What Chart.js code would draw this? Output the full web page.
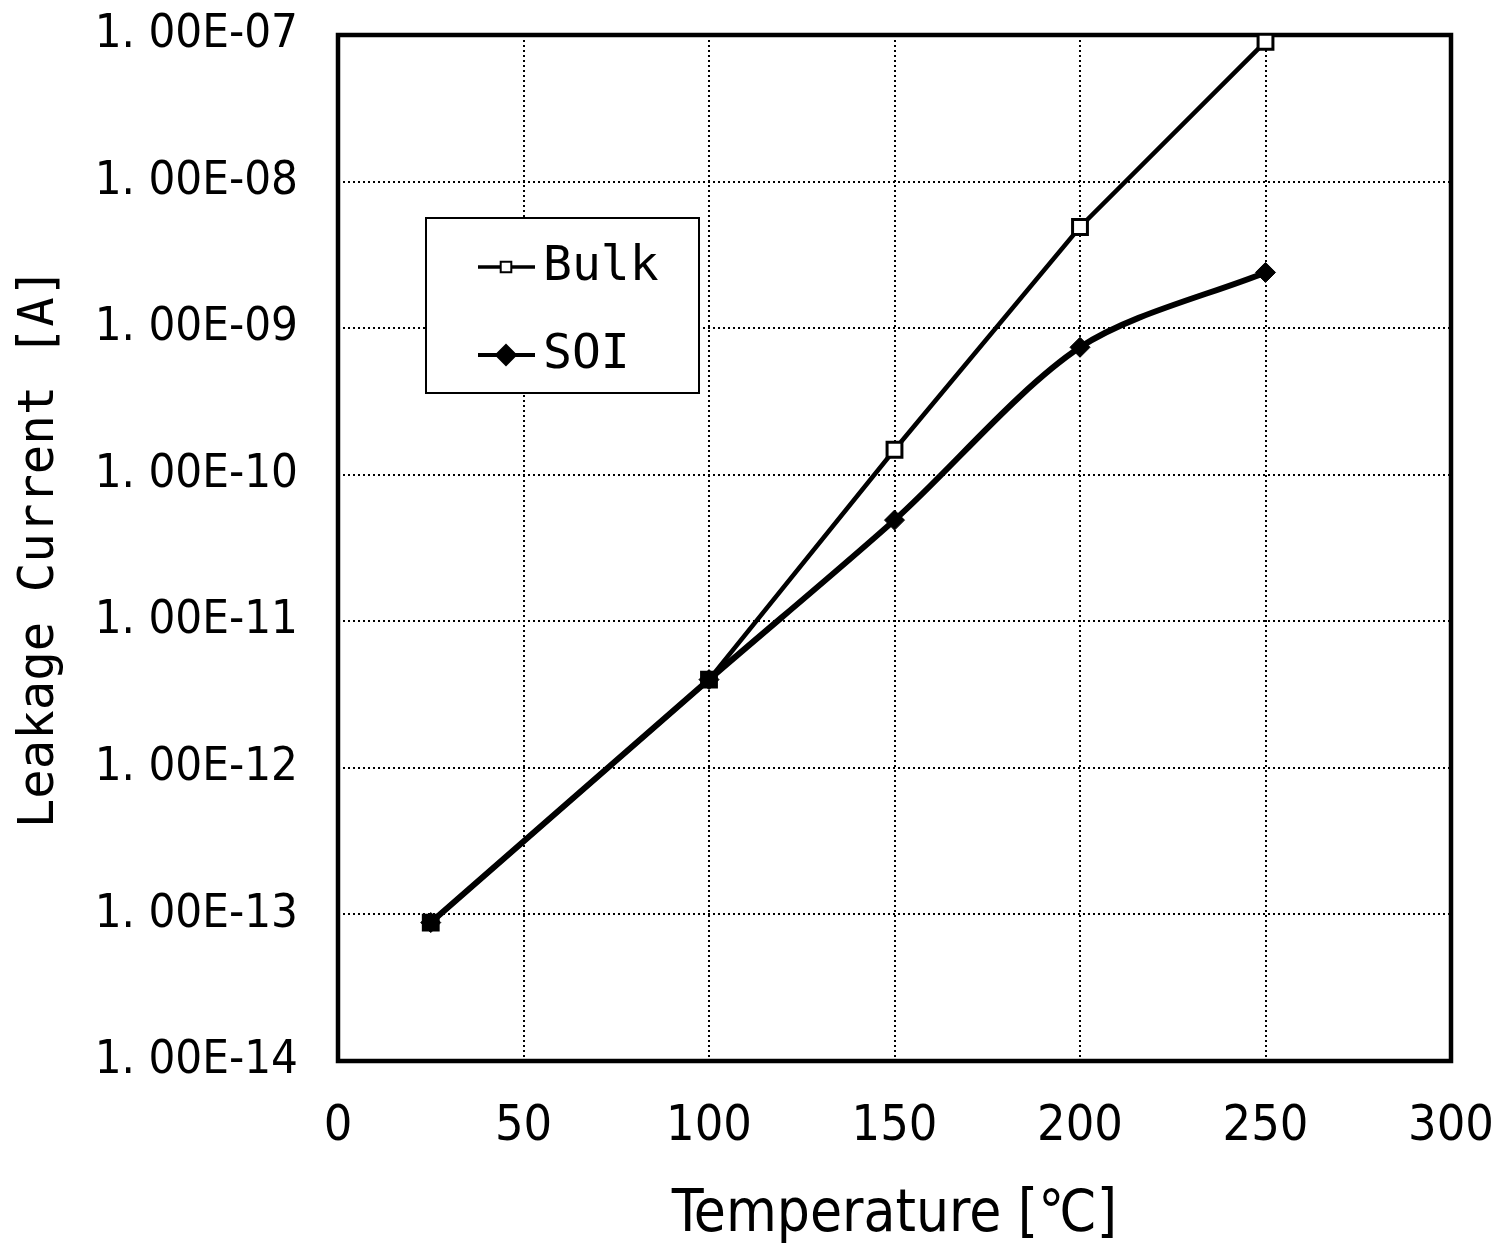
<!DOCTYPE html>
<html>
<head>
<meta charset="utf-8">
<script src="https://cdn.jsdelivr.net/npm/chart.js@4/dist/chart.umd.min.js"></script>
<style>
  html, body { margin: 0; padding: 0; background: #fff; }
  #wrap { width: 1494px; height: 1249px; position: relative; }
</style>
</head>
<body>
<div id="wrap"><canvas id="c"></canvas></div>
<script>
// ---- data ----
const temperatures = [25, 100, 150, 200, 250];
const bulkCurrent = [8.8e-14, 4.0e-12, 1.48e-10, 4.9e-9, 9.0e-8];
const soiCurrent = [8.8e-14, 4.0e-12, 4.9e-11, 7.4e-10, 2.4e-9];
const seriesNames = ['Bulk', 'SOI'];
const yTickValues = [1e-14, 1e-13, 1e-12, 1e-11, 1e-10, 1e-9, 1e-8, 1e-7];
const yTickLabels = ['1. 00E-14', '1. 00E-13', '1. 00E-12', '1. 00E-11', '1. 00E-10', '1. 00E-09', '1. 00E-08', '1. 00E-07'];
const xTickValues = [0, 50, 100, 150, 200, 250, 300];
const xTitle = 'Temperature [℃]';
const yTitle = 'Leakage Current [A]';

const NUM_FONT = "'Liberation Sans Narrow', 'DejaVu Sans Condensed', 'Liberation Sans', sans-serif";
const MONO_FONT = "'DejaVu Sans Mono', 'Liberation Mono', monospace";

// frame around the plot area
const framePlugin = {
  id: 'frame',
  beforeDatasetsDraw(chart) {
    const {ctx, chartArea: a} = chart;
    ctx.save();
    ctx.strokeStyle = '#000';
    ctx.lineWidth = 4.5;
    ctx.strokeRect(a.left, a.top, a.right - a.left, a.bottom - a.top);
    ctx.restore();
  }
};

// legend drawn inside the plot area
const insideLegend = {
  id: 'insideLegend',
  afterDatasetsDraw(chart) {
    const {ctx, chartArea: a} = chart;
    const bx = a.left + 88, by = a.top + 183, bw = 273, bh = 175;
    ctx.save();
    ctx.fillStyle = '#fff';
    ctx.fillRect(bx, by, bw, bh);
    ctx.strokeStyle = '#000';
    ctx.lineWidth = 2;
    ctx.strokeRect(bx, by, bw, bh);
    const rows = [by + 49, by + 137];
    chart.data.datasets.forEach((ds, i) => {
      const y = rows[i];
      ctx.strokeStyle = '#000';
      ctx.lineWidth = ds.legendLineWidth;
      ctx.beginPath();
      ctx.moveTo(bx + 52, y);
      ctx.lineTo(bx + 109, y);
      ctx.stroke();
      ctx.fillStyle = ds.legendFill;
      ctx.strokeStyle = '#000';
      ctx.lineWidth = 2;
      Chart.helpers.drawPoint(ctx, {pointStyle: ds.pointStyle, radius: ds.legendPointRadius, borderWidth: 2}, bx + 80, y);
      ctx.fillStyle = '#000';
      ctx.font = "48px " + MONO_FONT;
      ctx.textAlign = 'left';
      ctx.textBaseline = 'middle';
      ctx.fillText(ds.label, bx + 117, y + 1);
    });
    ctx.restore();
  }
};

const gridStyle = {
  color: '#000',
  lineWidth: 2,
  drawTicks: false
};

new Chart(document.getElementById('c'), {
  type: 'line',
  data: {
    datasets: [
      {
        label: seriesNames[0],
        data: temperatures.map((t, i) => ({x: t, y: bulkCurrent[i]})),
        borderColor: '#000',
        borderWidth: 4.5,
        tension: 0,
        pointStyle: 'rect',
        pointRadius: 10.5,
        pointBorderWidth: 3,
        pointBorderColor: '#000',
        pointBackgroundColor: ['#000', '#000', '#fff', '#fff', '#fff'],
        legendFill: '#fff',
        legendLineWidth: 3.5,
        legendPointRadius: 7.5
      },
      {
        label: seriesNames[1],
        data: temperatures.map((t, i) => ({x: t, y: soiCurrent[i]})),
        borderColor: '#000',
        borderWidth: 6,
        tension: 0.3,
        pointStyle: 'rectRot',
        pointRadius: 10,
        pointBorderWidth: 1,
        pointBorderColor: '#000',
        pointBackgroundColor: '#000',
        legendFill: '#000',
        legendLineWidth: 4,
        legendPointRadius: 10
      }
    ]
  },
  options: {
    responsive: true,
    maintainAspectRatio: false,
    devicePixelRatio: 1,
    animation: false,
    layout: { padding: { top: 35, right: 43, left: 0, bottom: 0 } },
    plugins: {
      legend: { display: false },
      tooltip: { enabled: false }
    },
    scales: {
      x: {
        type: 'linear',
        min: 0,
        max: 300,
        afterBuildTicks(scale) { scale.ticks = xTickValues.map(v => ({value: v})); },
        afterFit(scale) { scale.height = 188; scale.paddingLeft = 0; scale.paddingRight = 0; },
        grid: Object.assign({}, gridStyle, {
          color: (c) => (c.tick && (c.tick.value === 0 || c.tick.value === 300)) ? 'rgba(0,0,0,0)' : '#000'
        }),
        border: { display: false, dash: [2, 3] },
        ticks: {
          color: '#000',
          padding: 36,
          maxRotation: 0,
          font: { family: NUM_FONT, size: 50 },
          callback: (v) => String(v)
        },
        title: {
          display: true,
          text: xTitle,
          color: '#000',
          font: { family: NUM_FONT, size: 58, lineHeight: 1 },
          padding: { top: 0, bottom: 4 }
        }
      },
      y: {
        type: 'logarithmic',
        min: yTickValues[0],
        max: yTickValues[yTickValues.length - 1],
        afterBuildTicks(scale) { scale.ticks = yTickValues.map(v => ({value: v})); },
        afterFit(scale) { scale.width = 338; scale.paddingTop = 0; scale.paddingBottom = 0; },
        grid: Object.assign({}, gridStyle, {
          color: (c) => (c.tick && (c.index === 0 || c.index === yTickValues.length - 1)) ? 'rgba(0,0,0,0)' : '#000'
        }),
        border: { display: false, dash: [2, 3] },
        ticks: {
          color: '#000',
          padding: 40,
          font: { family: NUM_FONT, size: 47 },
          callback: (v, i) => yTickLabels[i]
        },
        title: {
          display: true,
          text: yTitle,
          color: '#000',
          font: { family: MONO_FONT, size: 49, lineHeight: 1 },
          padding: { top: 16, bottom: 0 }
        }
      }
    }
  },
  plugins: [framePlugin, insideLegend]
});
</script>
</body>
</html>
